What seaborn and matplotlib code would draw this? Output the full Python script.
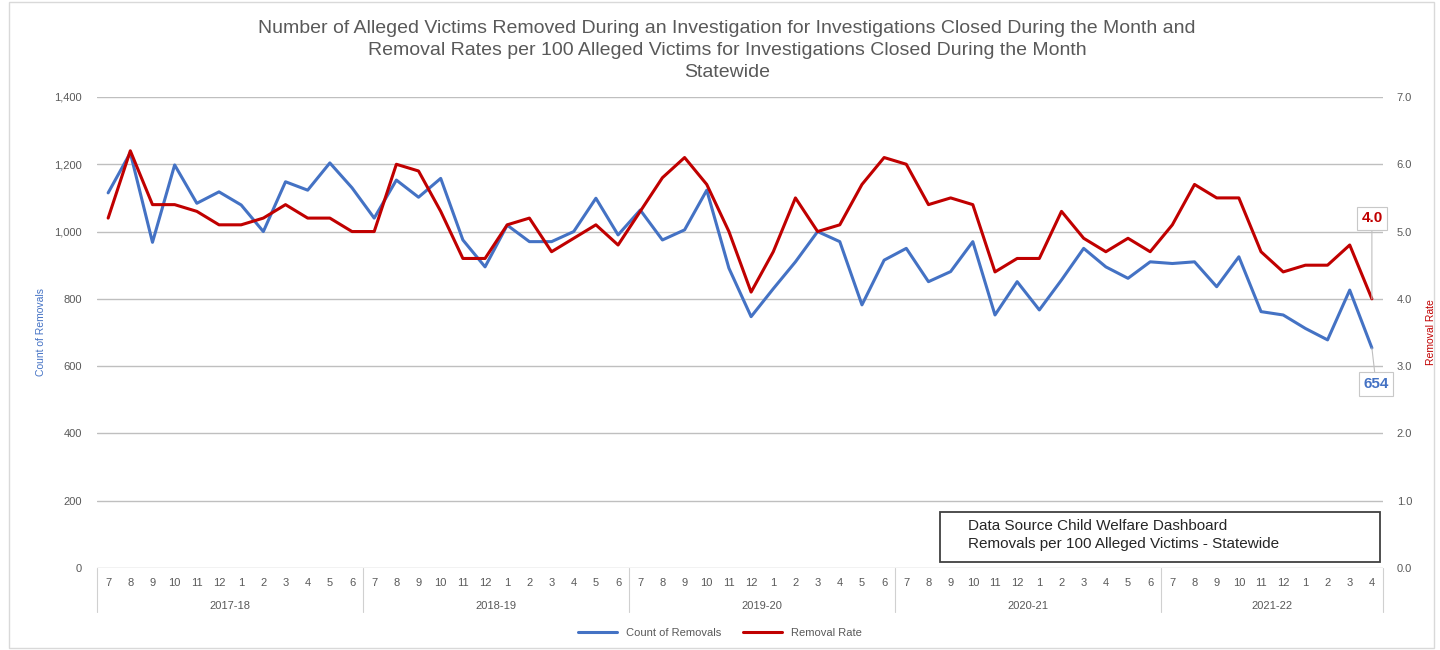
import numpy as np
import pandas as pd
import matplotlib
matplotlib.use("Agg")
import matplotlib.pyplot as plt
import matplotlib.transforms as mtransforms
from matplotlib.lines import Line2D
import seaborn as sns

fiscal_years = ["2017-18", "2018-19", "2019-20", "2020-21", "2021-22"]
months_per_year = [12, 12, 12, 12, 10]
month_labels = ["7", "8", "9", "10", "11", "12", "1", "2", "3", "4", "5", "6"]

removals = [1115, 1234, 968, 1198, 1084, 1118, 1079, 1000, 1148, 1123, 1204, 1130,
            1040, 1153, 1102, 1158, 975, 895, 1019, 970, 970, 1000, 1099, 990,
            1064, 975, 1005, 1123, 891, 747, 830, 910, 1000, 970, 782, 915,
            950, 851, 881, 970, 752, 851, 767, 856, 950, 895, 861, 910,
            905, 910, 836, 925, 762, 752, 712, 678, 826, 654]
removal_rate = [5.2, 6.2, 5.4, 5.4, 5.3, 5.1, 5.1, 5.2, 5.4, 5.2, 5.2, 5.0,
                5.0, 6.0, 5.9, 5.3, 4.6, 4.6, 5.1, 5.2, 4.7, 4.9, 5.1, 4.8,
                5.3, 5.8, 6.1, 5.7, 5.0, 4.1, 4.7, 5.5, 5.0, 5.1, 5.7, 6.1,
                6.0, 5.4, 5.5, 5.4, 4.4, 4.6, 4.6, 5.3, 4.9, 4.7, 4.9, 4.7,
                5.1, 5.7, 5.5, 5.5, 4.7, 4.4, 4.5, 4.5, 4.8, 4.0]

blue = "#4472C4"
red = "#C00000"
gray = "#595959"

sns.set_theme(style="white")
plt.rcParams["font.family"] = ["Liberation Sans", "DejaVu Sans"]

months = []
years = []
for fy, n in zip(fiscal_years, months_per_year):
    months += month_labels[:n]
    years += [fy] * n
df = pd.DataFrame({"pos": np.arange(len(removals)), "month": months, "fy": years,
                   "removals": removals, "rate": removal_rate})

fig = plt.figure(figsize=(14.4, 6.5), dpi=100)
ax = fig.add_axes([0.0674, 0.1262, 0.893, 0.7246])
ax2 = ax.twinx()

sns.lineplot(data=df, x="pos", y="removals", ax=ax, color=blue, linewidth=2.2)
sns.lineplot(data=df, x="pos", y="rate", ax=ax2, color=red, linewidth=2.2)

n = len(df)
ax.set_xlim(-0.5, n - 0.5)
ax.set_ylim(0, 1400)
ax.set_yticks(np.arange(0, 1401, 200))
ax.set_yticklabels([f"{v:,}" for v in range(0, 1401, 200)], fontsize=8, color=gray)
ax2.set_ylim(0, 7)
ax2.set_yticks(np.arange(0, 7.01, 1))
ax2.set_yticklabels([f"{v:.1f}" for v in range(0, 8)], fontsize=8, color=gray)
ax.grid(axis="y", color="#bfbfbf", linewidth=1)
ax.set_axisbelow(True)
for a in (ax, ax2):
    for s in a.spines.values():
        s.set_visible(False)
ax.tick_params(axis="y", length=0, pad=11)
ax2.tick_params(axis="y", length=0, pad=10)
ax.set_xticks([])
ax.set_xlabel("")
ax.set_ylabel("Count of Removals", color=blue, fontsize=7.5, labelpad=6)
ax2.set_ylabel("Removal Rate", color=red, fontsize=7.5, labelpad=10)

# two-level category axis
trans = mtransforms.blended_transform_factory(ax.transData, ax.transAxes)
for i, m in enumerate(df["month"]):
    ax.text(i, -0.032, m, transform=trans, ha="center", va="center", fontsize=8, color=gray)
start = 0
bounds = [-0.5]
for fy, cnt in zip(fiscal_years, months_per_year):
    ax.text(start + (cnt - 1) / 2, -0.081, fy, transform=trans, ha="center", va="center",
            fontsize=8, color=gray)
    start += cnt
    bounds.append(start - 0.5)
for b in bounds:
    ax.add_line(Line2D([b, b], [0, -0.093], transform=trans, color="#d0d0d0",
                       linewidth=0.8, clip_on=False))

# last-value callouts
ax2.annotate(f"{removal_rate[-1]:.1f}", xy=(n - 1, removal_rate[-1]), xytext=(0, 58),
             textcoords="offset points", ha="center", va="center", fontsize=11,
             fontweight="bold", color=red,
             bbox=dict(boxstyle="square,pad=0.3", fc="white", ec="#c8c8c8", lw=0.8),
             arrowprops=dict(arrowstyle="-", color="#bfbfbf", lw=0.8, shrinkA=0, shrinkB=0))
ax.annotate(f"{removals[-1]}", xy=(n - 1, removals[-1]), xytext=(3, -26),
            textcoords="offset points", ha="center", va="center", fontsize=11,
            fontweight="bold", color=blue,
            bbox=dict(boxstyle="square,pad=0.3", fc="white", ec="#c8c8c8", lw=0.8),
            arrowprops=dict(arrowstyle="-", color="#bfbfbf", lw=0.8, shrinkA=0, shrinkB=0))

fig.text(0.505, 0.922,
         "Number of Alleged Victims Removed During an Investigation for Investigations Closed During the Month and\n"
         "Removal Rates per 100 Alleged Victims for Investigations Closed During the Month\n"
         "Statewide", ha="center", va="center", fontsize=14, color=gray, linespacing=1.38)

# data source box
fig.add_artist(plt.Rectangle((940 / 1440, 1 - 562 / 650), 440 / 1440, 50 / 650,
                             transform=fig.transFigure, fc="white", ec="#404040", lw=1.3,
                             zorder=5))
fig.text(968 / 1440, 1 - 535 / 650,
         "Data Source Child Welfare Dashboard\nRemovals per 100 Alleged Victims - Statewide",
         ha="left", va="center", fontsize=11, color="#262626", linespacing=1.45, zorder=6)

handles = [Line2D([], [], color=blue, lw=2.2), Line2D([], [], color=red, lw=2.2)]
fig.legend(handles, ["Count of Removals", "Removal Rate"], loc="center",
           bbox_to_anchor=(0.5, 0.026), ncol=2, frameon=False, fontsize=8,
           labelcolor=gray, handlelength=3.5, columnspacing=2)

fig.add_artist(plt.Rectangle((0.006, 0.003), 0.99, 0.994, transform=fig.transFigure,
                             fill=False, ec="#d9d9d9", lw=1))

fig.savefig("out.png", dpi=100)
